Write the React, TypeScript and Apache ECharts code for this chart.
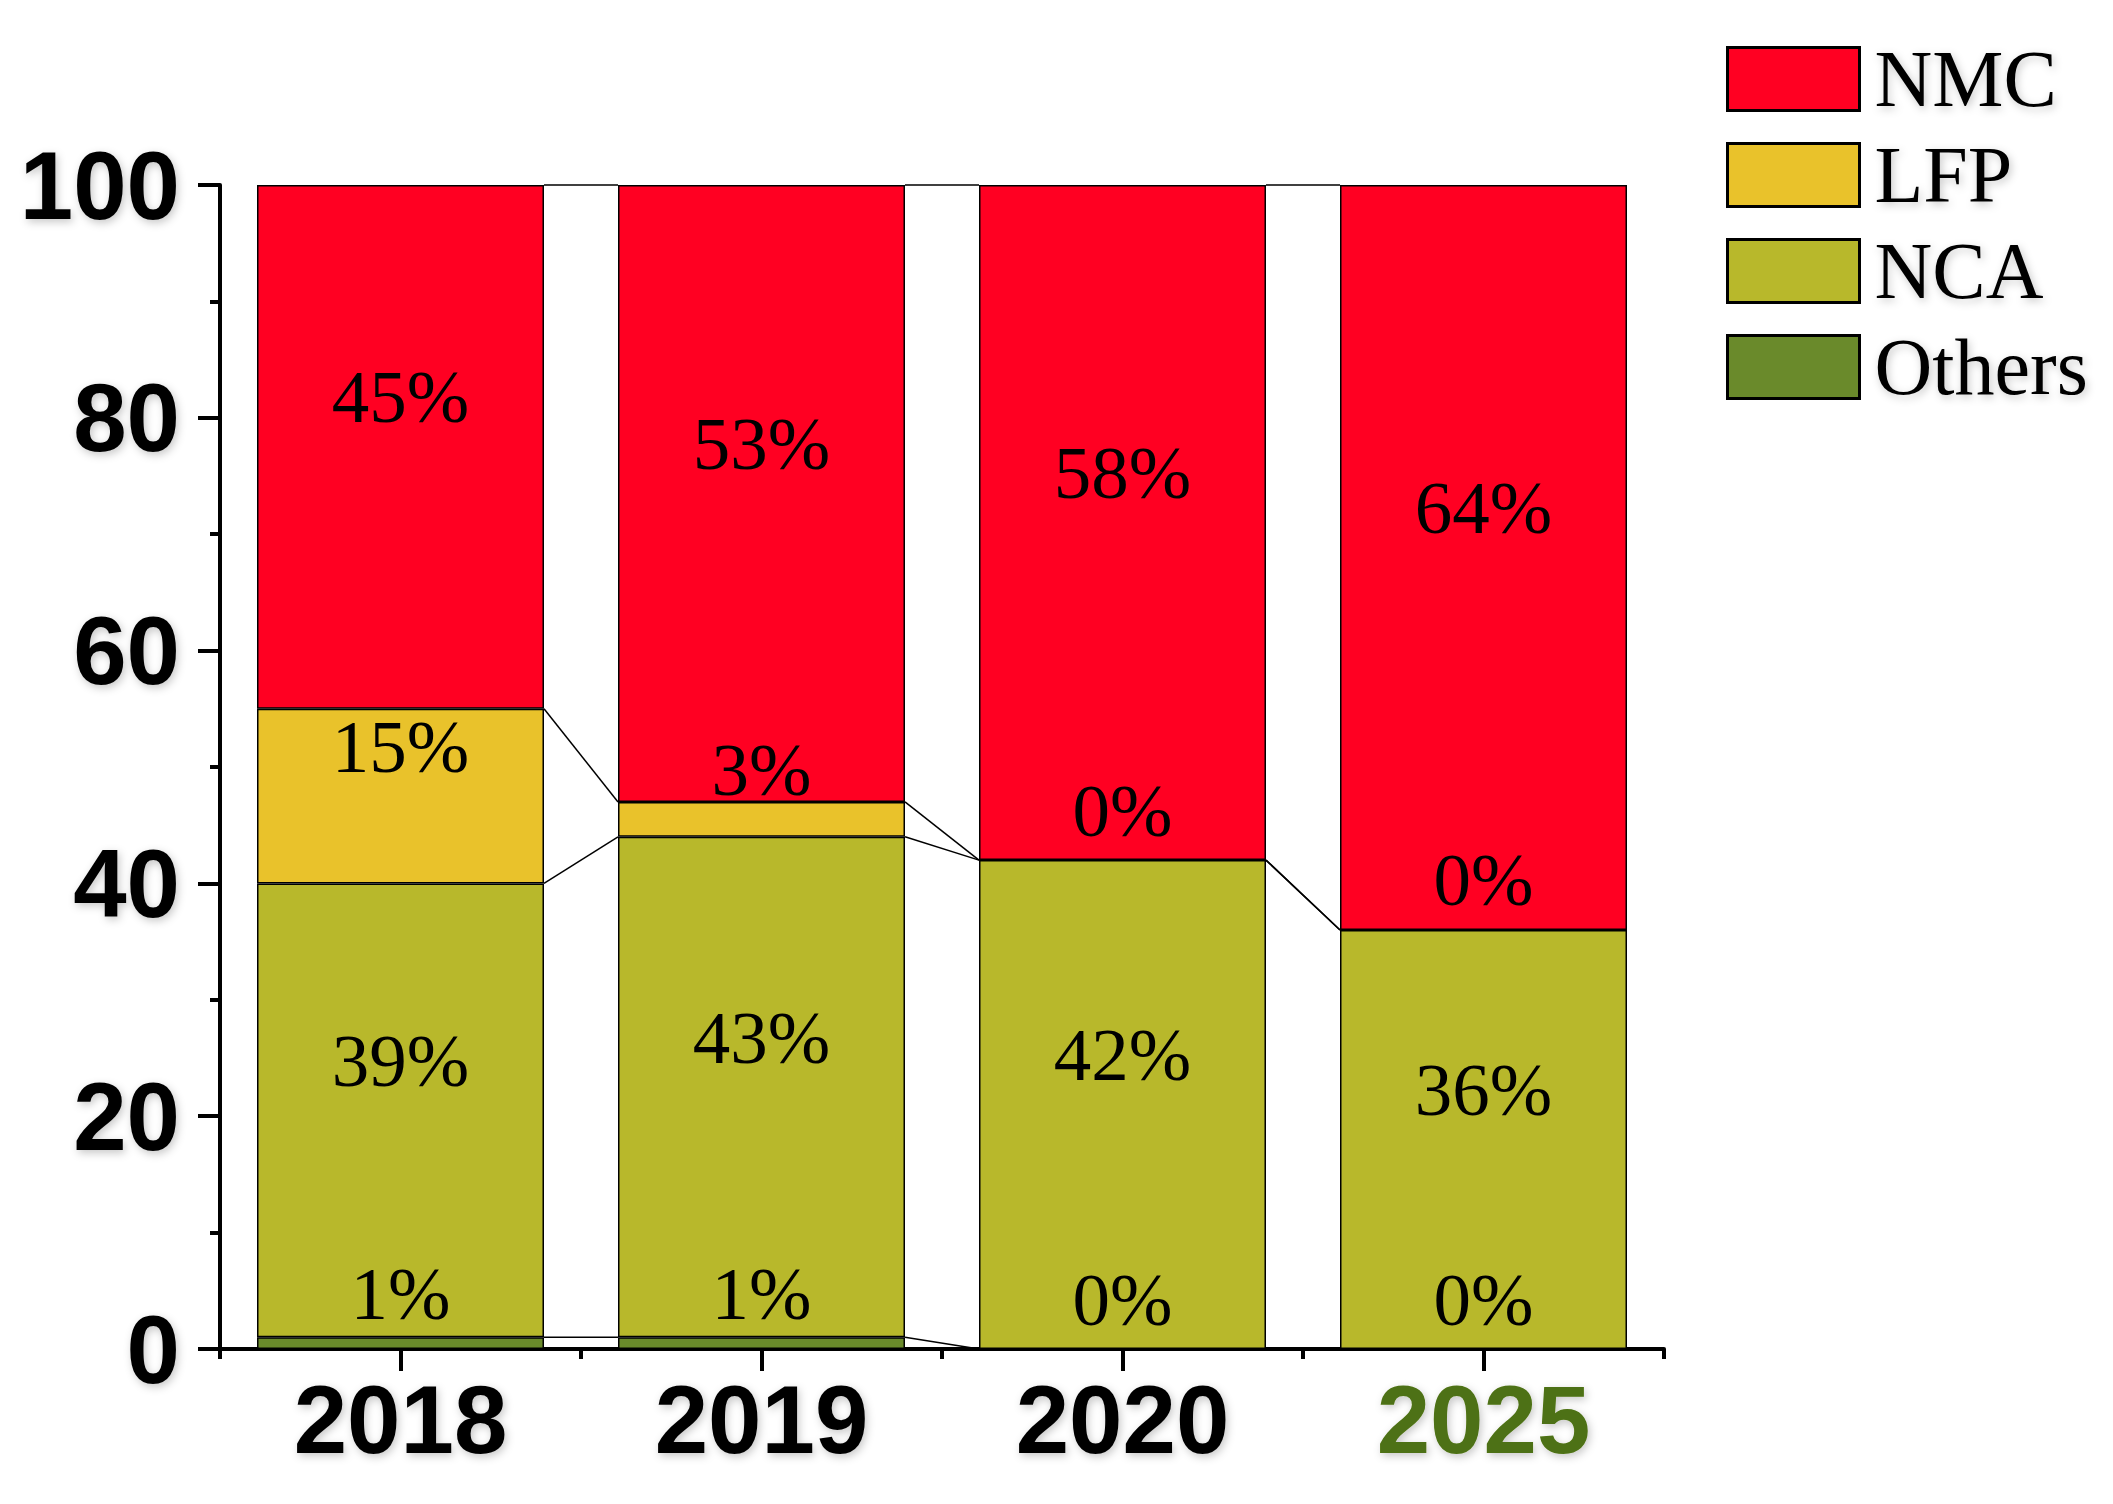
import React, { useEffect, useRef } from "react";
import * as echarts from "echarts";

const years = ["2018", "2019", "2020", "2025"];
const others = [1, 1, 0, 0];
const nca = [39, 43, 42, 36];
const lfp = [15, 3, 0, 0];
const nmc = [45, 53, 58, 64];
const yTicks = { min: 0, max: 100, interval: 20 };

const RED = "#ff0022";
const YEL = "#e9c22b";
const OLIVE = "#b8b82b";
const GREEN = "#6a8a2b";

const shadow = {
  textShadowColor: "rgba(0,0,0,0.22)",
  textShadowBlur: 8,
  textShadowOffsetX: 2,
  textShadowOffsetY: 3,
};

export default function App() {
  const ref = useRef<HTMLDivElement>(null);
  useEffect(() => {
    if (!ref.current) return;
    const chart = echarts.init(ref.current, null, { renderer: "svg" });

    // cumulative tops for connector lines
    const levels: number[][] = [];
    const stackSeries = [others, nca, lfp, nmc];
    let acc = years.map(() => 0);
    stackSeries.forEach((s) => {
      acc = acc.map((a, i) => a + s[i]);
      levels.push(acc.slice());
    });
    const connData: number[][] = [];
    for (let i = 0; i < years.length - 1; i++) {
      levels.forEach((lv) => connData.push([i, lv[i], lv[i + 1]]));
    }

    const barLabel = {
      show: true,
      position: "inside",
      offset: [0, -50],
      formatter: "{c}%",
      fontFamily: "Liberation Serif",
      fontSize: 75,
      color: "#000",
    };
    const mkBar = (name: string, data: number[], color: string) => ({
      name,
      type: "bar",
      stack: "all",
      data,
      barWidth: "79.5%",
      itemStyle: { color, borderColor: "#000", borderWidth: 1.5 },
      label: barLabel,
      z: 2,
    });

    chart.setOption({
      animation: false,
      backgroundColor: "#fff",
      grid: { left: 220, right: 449, top: 185, bottom: 155 },
      legend: {
        data: ["NMC", "LFP", "NCA", "Others"],
        orient: "vertical",
        left: 1721,
        top: 34,
        itemWidth: 132,
        itemHeight: 63,
        itemGap: 16,
        icon: "rect",
        itemStyle: { borderColor: "#000", borderWidth: 3 },
        textStyle: {
          fontFamily: "Liberation Serif",
          fontSize: 80,
          color: "#000",
          padding: [0, 0, 0, 10],
          ...shadow,
        },
      },
      xAxis: [
        {
          type: "category",
          position: "bottom",
          data: years.map((y, i) =>
            i === years.length - 1
              ? { value: y, textStyle: { color: "#4d7113" } }
              : { value: y }
          ),
          axisLine: { show: true, lineStyle: { color: "#000", width: 4 } },
          axisTick: {
            show: true,
            alignWithLabel: true,
            length: 22,
            lineStyle: { color: "#000", width: 4 },
          },
          axisLabel: {
            fontFamily: "Liberation Sans",
            fontWeight: "bold",
            fontSize: 96,
            color: "#000",
            margin: 22,
            ...shadow,
          },
          splitLine: { show: false },
        },
        {
          type: "category",
          position: "bottom",
          data: years,
          axisLine: { show: false },
          axisTick: {
            show: true,
            length: 10,
            lineStyle: { color: "#000", width: 4 },
          },
          axisLabel: { show: false },
          splitLine: { show: false },
        },
      ],
      yAxis: {
        type: "value",
        min: yTicks.min,
        max: yTicks.max,
        interval: yTicks.interval,
        axisLine: { show: true, lineStyle: { color: "#000", width: 4 } },
        axisTick: { show: true, length: 22, lineStyle: { color: "#000", width: 4 } },
        minorTick: { show: true, splitNumber: 2, length: 10, lineStyle: { color: "#000", width: 4 } },
        axisLabel: {
          fontFamily: "Liberation Sans",
          fontWeight: "bold",
          fontSize: 96,
          color: "#000",
          margin: 40,
          ...shadow,
        },
        splitLine: { show: false },
      },
      series: [
        mkBar("Others", others, GREEN),
        mkBar("NCA", nca, OLIVE),
        mkBar("LFP", lfp, YEL),
        mkBar("NMC", nmc, RED),
        {
          type: "custom",
          name: "connect",
          data: connData,
          z: 3,
          silent: true,
          renderItem: (params: any, api: any) => {
            const i = api.value(0);
            const y1 = api.value(1);
            const y2 = api.value(2);
            const bw = api.size([1, 0])[0] * 0.795;
            const p1 = api.coord([i, y1]);
            const p2 = api.coord([i + 1, y2]);
            return {
              type: "line",
              shape: { x1: p1[0] + bw / 2, y1: p1[1], x2: p2[0] - bw / 2, y2: p2[1] },
              style: { stroke: "#000", lineWidth: 1.5 },
            };
          },
        },
      ],
    });
    return () => chart.dispose();
  }, []);
  return (
    <div
      ref={ref}
      style={{ position: "fixed", left: 0, top: 0, width: 2113, height: 1504 }}
    />
  );
}
